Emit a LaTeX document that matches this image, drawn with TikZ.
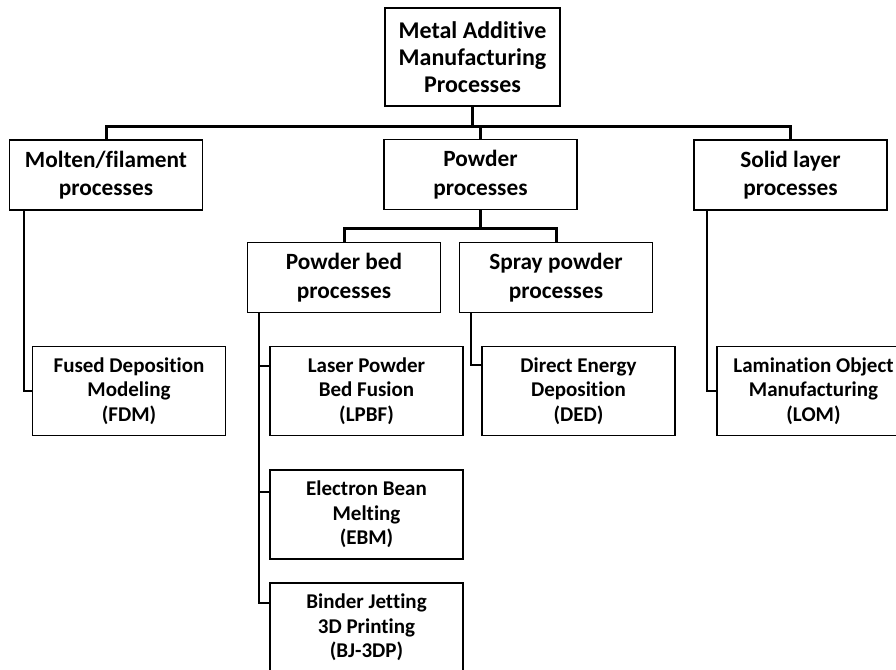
\documentclass[tikz,border=0pt]{standalone}
\usepackage{fontspec}
\setmainfont{Carlito}[Ligatures=CommonOff]
\usetikzlibrary{positioning}

\begin{document}
\begin{tikzpicture}[
    x=1pt, y=-1pt,
    rootbox/.style={draw, line width=1.8pt, minimum width=175pt, minimum height=98pt,
                    inner sep=0pt, align=center, font=\bfseries\fontsize{24}{27}\selectfont},
    groupbox/.style={draw, line width=1.8pt, minimum width=193pt, minimum height=70pt,
                     inner sep=0pt, align=center, font=\bfseries\fontsize{23.3}{28.5}\selectfont},
    leafbox/.style={draw, line width=1.8pt, minimum width=193pt, minimum height=89pt,
                    inner sep=0pt, align=center, font=\bfseries\fontsize{21}{24.5}\selectfont},
    bus/.style={line width=3pt},
    link/.style={line width=1.8pt}
]
\useasboundingbox (0,0) rectangle (896,669);
\clip (0,0) rectangle (896,669);

% top level
\node[rootbox]  (root)   at (472.5,57)  {Metal Additive\\Manufacturing\\Processes};
\node[groupbox] (molten) at (106,175)   {Molten/filament\\processes};
\node[groupbox] (powder) at (480.5,174.5) {Powder\\processes};
\node[groupbox] (solid)  at (790.5,175) {Solid layer\\processes};

% powder sub groups
\node[groupbox] (pbed)  at (344,277.5) {Powder bed\\processes};
\node[groupbox] (spray) at (556,277.5) {Spray powder\\processes};

% leaves
\node[leafbox] (fdm)  at (129,391)   {Fused Deposition\\Modeling\\(FDM)};
\node[leafbox] (lpbf) at (366.5,391) {Laser Powder\\Bed Fusion\\(LPBF)};
\node[leafbox] (ded)  at (578.5,391) {Direct Energy\\Deposition\\(DED)};
\node[leafbox] (lom)  at (813.5,391) {Lamination Object\\Manufacturing\\(LOM)};
\node[leafbox] (ebm)  at (366.5,514.5) {Electron Bean\\Melting\\(EBM)};
\node[leafbox] (bj)   at (366.5,627.5) {Binder Jetting\\3D Printing\\(BJ-3DP)};

% buses
\coordinate (bus1) at (0,126);
\coordinate (bus2) at (0,228);
\draw[bus] (root.south) -- (root.south |- bus1);
\draw[bus] (molten.north) |- (solid.north |- bus1) -- (solid.north);
\draw[bus] (powder.north) -- (powder.north |- bus1);
\draw[bus] (powder.south) -- (powder.south |- bus2);
\draw[bus] (pbed.north) |- (spray.north |- bus2) -- (spray.north);

% leaf links
\coordinate (trunk) at ([xshift=12pt]pbed.south west);
\coordinate (lpbfin) at ([yshift=-20pt]lpbf.north west);
\coordinate (ebmin)  at ([yshift=-23pt]ebm.north west);
\draw[link] ([xshift=15pt]molten.south west) |- (fdm.west);
\draw[link] ([xshift=14pt]solid.south west) |- (lom.west);
\draw[link] ([xshift=12pt]spray.south west) |- ([yshift=-19pt]ded.north west);
\draw[link] (trunk) |- ([yshift=-21pt]bj.north west);
\draw[link] (lpbfin) -- (trunk |- lpbfin);
\draw[link] (ebmin) -- (trunk |- ebmin);
\end{tikzpicture}
\end{document}
